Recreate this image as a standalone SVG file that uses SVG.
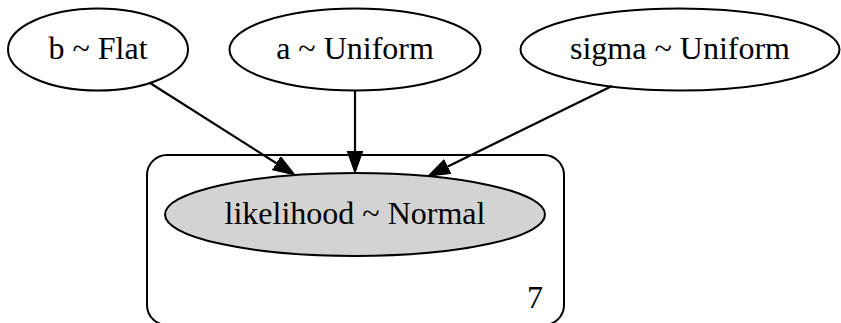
<svg xmlns="http://www.w3.org/2000/svg" width="841" height="323" viewBox="0 0 841 323">
  <style>
    .node ellipse { stroke: #000; stroke-width: 2; }
    .free { fill: #fff; }
    .observed { fill: #d3d3d3; }
    text { font-family: "Liberation Serif", "Times New Roman", serif; font-size: 32px; fill: #000; }
    .label { text-anchor: middle; }
    .edge { stroke: #000; stroke-width: 2.2; fill: none; marker-end: url(#arrow); }
    .plate { fill: none; stroke: #000; stroke-width: 2; }
  </style>
  <defs>
    <marker id="arrow" markerUnits="userSpaceOnUse" markerWidth="24" markerHeight="18" refX="0" refY="8" orient="auto">
      <path d="M0,0.2 L22,8 L0,15.8 Z" fill="#000" stroke="#000" stroke-width="1"/>
    </marker>
  </defs>
  <rect width="841" height="323" fill="#fff"/>

  <!-- plate for the observed variable, size 7 -->
  <g id="plate_7">
    <rect class="plate" x="147" y="155" width="417" height="170" rx="20" ry="20"/>
    <text x="535" y="308" class="label">7</text>
  </g>

  <g id="b" class="node">
    <ellipse class="free" cx="98" cy="49.5" rx="90" ry="41"/>
    <text x="98" y="59" class="label">b ~ Flat</text>
  </g>

  <g id="a" class="node">
    <ellipse class="free" cx="355" cy="49.5" rx="125.5" ry="41"/>
    <text x="355" y="59" class="label">a ~ Uniform</text>
  </g>

  <g id="sigma" class="node">
    <ellipse class="free" cx="680" cy="49.5" rx="159.5" ry="41"/>
    <text x="680" y="59" class="label">sigma ~ Uniform</text>
  </g>

  <g id="likelihood" class="node">
    <ellipse class="observed" cx="355" cy="214.5" rx="190" ry="41.5"/>
    <text x="355" y="224" class="label">likelihood ~ Normal</text>
  </g>

  <g id="edges">
    <line class="edge" x1="150" y1="83" x2="276.4" y2="163.2"/>
    <line class="edge" x1="355" y1="90.5" x2="355" y2="151"/>
    <line class="edge" x1="612" y1="86" x2="447.8" y2="166.4"/>
  </g>
</svg>
